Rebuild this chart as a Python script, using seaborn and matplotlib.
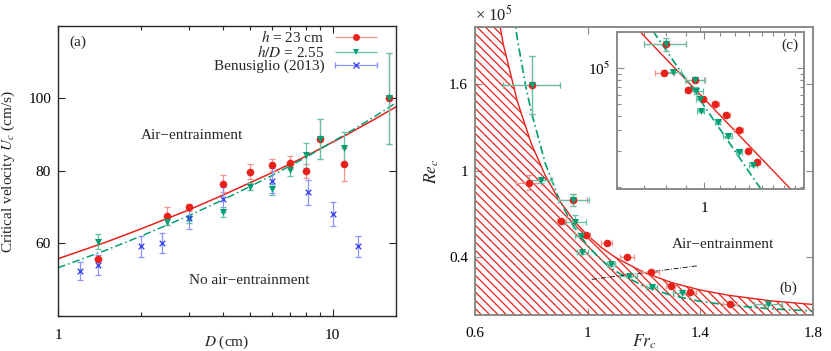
"""Critical velocity (a), Re-Fr phase diagram (b) and log-log inset (c)"""

import numpy as np
import matplotlib
matplotlib.use("Agg")
import matplotlib.pyplot as plt
from matplotlib.legend_handler import HandlerErrorbar
from matplotlib.container import ErrorbarContainer
import seaborn as sns

# ── panel (a): U_c vs D ──
D_RED = [1.4, 2.5, 3, 4, 5, 6, 7, 8, 9, 11, 16]
U_RED = [55.8, 67.6, 70.0, 76.5, 79.8, 81.7, 82.3, 80.0, 88.9, 81.8, 100.0]
U_RED_ERR = [1.0, 2.5, 1.0, 2.4, 2.0, 1.7, 1.7, 1.8, 5.5, 4.6, 12.5]

D_GREEN = [1.4, 2.5, 3, 4, 5, 6, 7, 8, 9, 11, 16]
U_GREEN = [60.5, 66.0, 66.7, 68.7, 75.7, 75.0, 80.4, 84.3, 88.9, 86.3, 100.0]
U_GREEN_ERR = [2.0, 1.0, 1.0, 1.5, 1.0, 1.5, 1.8, 3.5, 5.5, 4.5, 12.5]

D_BENU = [1.2, 1.4, 2.0, 2.4, 3.0, 4.0, 6.0, 8.1, 10.0, 12.4]
U_BENU = [52.3, 54.0, 59.2, 60.2, 67.0, 72.2, 77.3, 74.1, 68.2, 59.2]
U_BENU_ERR = [2.5, 2.8, 2.8, 2.8, 3.0, 3.5, 3.5, 3.5, 3.3, 2.8]

D_FIT = [1, 1.5, 2, 3, 4, 6, 8, 11, 14, 17]
U_FIT_RED = [55.8, 60.4, 64.0, 69.3, 73.4, 79.5, 84.1, 89.6, 94.0, 97.7]
U_FIT_GREEN = [53.3, 58.2, 62.0, 67.7, 72.1, 78.7, 83.8, 89.9, 94.7, 98.8]

# ── panel (b)/(c): Re_c (x1e5) vs Fr_c ──
FR_RED = [1.506, 1.364, 1.295, 1.224, 1.139, 1.068, 0.993, 0.907, 0.949, 0.791, 0.801]
RE_RED = [0.074, 0.162, 0.203, 0.301, 0.402, 0.497, 0.555, 0.652, 0.798, 0.918, 1.595]
FR_RED_ERR = [0.025, 0.02, 0.015, 0.03, 0.025, 0.02, 0.015, 0.015, 0.05, 0.044, 0.1]
RE_RED_ERR = [0.002, 0.006, 0.003, 0.01, 0.01, 0.01, 0.01, 0.01, 0.04, 0.05, 0.2]

FR_GREEN = [1.640, 1.334, 1.228, 1.147, 1.083, 0.981, 0.975, 0.955, 0.949, 0.833, 0.801]
RE_GREEN = [0.074, 0.155, 0.197, 0.271, 0.351, 0.435, 0.548, 0.647, 0.798, 0.936, 1.595]
FR_GREEN_ERR = [0.05, 0.03, 0.02, 0.03, 0.015, 0.02, 0.02, 0.04, 0.055, 0.04, 0.1]
RE_GREEN_ERR = [0.003, 0.005, 0.005, 0.01, 0.01, 0.01, 0.01, 0.045, 0.04, 0.02, 0.2]

FR_FIT_RED = [0.60, 0.65, 0.70, 0.75, 0.80, 0.85, 0.90, 0.95, 1.00, 1.05, 1.10,
              1.20, 1.30, 1.40, 1.50, 1.65, 1.80]
RE_FIT_RED = [3.20, 2.43, 1.883, 1.485, 1.189, 0.966, 0.793, 0.658, 0.552, 0.467, 0.398,
              0.295, 0.224, 0.1735, 0.137, 0.0986, 0.073]
FR_FIT_GREEN = [0.70, 0.72, 0.75, 0.78, 0.80, 0.85, 0.90, 0.95, 1.00, 1.05, 1.10,
                1.20, 1.30, 1.40, 1.50, 1.65, 1.80]
RE_FIT_GREEN = [2.68, 2.34, 1.92, 1.59, 1.41, 1.05, 0.798, 0.615, 0.48, 0.379, 0.303,
                0.199, 0.135, 0.0948, 0.068, 0.043, 0.028]

FR_TRANS = [1.015, 1.394]
RE_TRANS = [0.247, 0.342]

RED, RED_LIGHT = "#e8221a", "#f3948c"
GREEN, GREEN_LIGHT = "#009e73", "#62c2a2"
BLUE, BLUE_LIGHT = "#3c46f0", "#8c93ff"
FS = 11
DASHDOT = (0, (5, 2, 1, 2))

sns.set_theme(style="ticks")
plt.rcParams["font.family"] = ["Liberation Serif", "DejaVu Serif"]
plt.rcParams["mathtext.fontset"] = "stix"
plt.rcParams["hatch.color"] = RED
plt.rcParams["hatch.linewidth"] = 0.9


def style_axes(ax, color):
    for s in ax.spines.values():
        s.set_color(color)
        s.set_linewidth(1.0)
    ax.tick_params(which="both", direction="in", top=True, right=True,
                   color=color, labelsize=FS, labelcolor="black", pad=5)
    ax.tick_params(axis="x", which="both", pad=9)
    ax.tick_params(which="major", length=5, width=0.8)
    ax.tick_params(which="minor", length=3, width=0.8)


def points(ax, x, y, xerr, yerr, color, light, marker, size, scale=1.0):
    x = np.asarray(x)
    y = np.asarray(y) * scale
    ye = None if yerr is None else np.asarray(yerr) * scale
    ax.errorbar(x, y, xerr=xerr, yerr=ye, fmt="none", ecolor=light,
                elinewidth=0.9, capsize=2.2, capthick=0.9, zorder=3)
    lw = 1.0 if marker == "x" else 0
    sns.scatterplot(x=x, y=y, ax=ax, color=color, marker=marker, s=size,
                    linewidth=lw, edgecolor=color, zorder=4)


def plot_panel_a(ax):
    ax.set_xscale("log")
    sns.lineplot(x=D_FIT, y=U_FIT_RED, ax=ax, color=RED, linewidth=1.1, zorder=2)
    sns.lineplot(x=D_FIT, y=U_FIT_GREEN, ax=ax, color=GREEN, linewidth=1.1,
                 linestyle=DASHDOT, zorder=2)
    points(ax, D_RED, U_RED, None, U_RED_ERR, RED, RED_LIGHT, "o", 30)
    points(ax, D_GREEN, U_GREEN, None, U_GREEN_ERR, GREEN, GREEN_LIGHT, "v", 26)
    points(ax, D_BENU, U_BENU, None, U_BENU_ERR, BLUE, BLUE_LIGHT, "x", 16)

    ax.set_xlim(1, 17)
    ax.set_ylim(40, 120)
    ax.set_xticks([1, 10])
    ax.set_xticklabels(["1", "10"])
    ax.set_xticks([2, 3, 4, 5, 6, 7, 8, 9], minor=True)
    ax.set_xticklabels([], minor=True)
    ax.set_yticks([60, 80, 100])
    style_axes(ax, "#262626")

    ax.set_xlabel("$D$ (cm)", fontsize=FS)
    ax.set_ylabel("Critical velocity $U_c$ (cm/s)", fontsize=FS)
    ax.xaxis.set_label_coords(0.5, -0.062)
    ax.yaxis.set_label_coords(-0.12, 0.5)

    ax.text(0.035, 0.945, "(a)", transform=ax.transAxes, fontsize=FS, va="center")
    ax.text(0.396, 0.621, "Air\u2212entrainment", transform=ax.transAxes,
            fontsize=FS, ha="center", va="center")
    ax.text(0.565, 0.124, "No air\u2212entrainment", transform=ax.transAxes,
            fontsize=FS, ha="center", va="center")

    # legend: text on the left, horizontal error bar sample on the right
    handles = []
    for label, color, light, marker in [("$h$ = 23 cm", RED, RED_LIGHT, "o"),
                                        ("$h/D$ = 2.55", GREEN, GREEN_LIGHT, "v"),
                                        ("Benusiglio (2013)", BLUE, BLUE_LIGHT, "x")]:
        h = ax.errorbar([np.nan], [np.nan], xerr=[1.0], fmt=marker, color=color,
                        ecolor=light, elinewidth=0.9, capsize=2.2, markersize=5,
                        markeredgewidth=1.0 if marker == "x" else 0, label=label)
        handles.append(h)
    ax.legend(handles=handles, loc="upper right", bbox_to_anchor=(0.947, 0.99),
              frameon=False, markerfirst=False, fontsize=FS, handlelength=2.9,
              handletextpad=0.6, labelspacing=-0.05, borderpad=0, borderaxespad=0,
              handler_map={ErrorbarContainer: HandlerErrorbar(xerr_size=1.35)})


def plot_panel_b(ax, fig):
    ax.fill_between(FR_FIT_RED, 0, RE_FIT_RED, facecolor="none", edgecolor=RED,
                    hatch="\\\\\\\\", linewidth=0, zorder=1)
    sns.lineplot(x=FR_FIT_RED, y=RE_FIT_RED, ax=ax, color=RED, linewidth=1.0, zorder=2)
    sns.lineplot(x=FR_FIT_GREEN, y=RE_FIT_GREEN, ax=ax, color=GREEN, linewidth=1.2,
                 linestyle=DASHDOT, zorder=2)
    sns.lineplot(x=FR_TRANS, y=RE_TRANS, ax=ax, color="black", linewidth=0.6,
                 linestyle=(0, (6, 2, 1, 2)), zorder=2)
    points(ax, FR_RED, RE_RED, FR_RED_ERR, RE_RED_ERR, RED, RED_LIGHT, "o", 30)
    points(ax, FR_GREEN, RE_GREEN, FR_GREEN_ERR, RE_GREEN_ERR, GREEN, GREEN_LIGHT, "v", 26)

    ax.set_xlim(0.6, 1.8)
    ax.set_ylim(0, 2.0)
    ax.set_xticks([0.6, 1.0, 1.4, 1.8])
    ax.set_xticklabels(["0.6", "1", "1.4", "1.8"])
    ax.set_yticks([0.4, 1.0, 1.6])
    ax.set_yticklabels(["0.4", "1", "1.6"])
    style_axes(ax, "#8a8a8a")
    for s in ax.spines.values():
        s.set_linewidth(1.4)

    ax.set_xlabel("$Fr_c$", fontsize=12.5)
    ax.set_ylabel("$Re_c$", fontsize=12.5)
    ax.xaxis.set_label_coords(0.5, -0.062)
    ax.yaxis.set_label_coords(-0.1, 0.5)

    ax.text(0.734, 0.243, "Air\u2212entrainment", transform=ax.transAxes,
            fontsize=FS, ha="center", va="center")
    ax.text(0.927, 0.094, "(b)", transform=ax.transAxes, fontsize=FS,
            ha="center", va="center")
    fig.text(0.572, 0.957, "\u00d7 10$^5$", fontsize=12, ha="left", va="center")


def plot_panel_c(ax):
    ax.set_xscale("log")
    ax.set_yscale("log")
    sns.lineplot(x=FR_FIT_RED, y=np.asarray(RE_FIT_RED) * 1e5, ax=ax, color=RED,
                 linewidth=1.0, zorder=2)
    sns.lineplot(x=FR_FIT_GREEN, y=np.asarray(RE_FIT_GREEN) * 1e5, ax=ax, color=GREEN,
                 linewidth=1.2, linestyle=DASHDOT, zorder=2)
    points(ax, FR_RED, RE_RED, FR_RED_ERR, RE_RED_ERR, RED, RED_LIGHT, "o", 30, 1e5)
    points(ax, FR_GREEN, RE_GREEN, FR_GREEN_ERR, RE_GREEN_ERR, GREEN, GREEN_LIGHT, "v", 26, 1e5)

    ax.set_xlim(0.6, 1.8)
    ax.set_ylim(9.6e3, 2.0e5)
    ax.set_xticks([1.0])
    ax.set_xticklabels(["1"])
    ax.set_xticks([0.7, 0.8, 0.9, 1.1, 1.2, 1.3, 1.4, 1.5, 1.6, 1.7], minor=True)
    ax.set_xticklabels([], minor=True)
    ax.set_yticks([1e5])
    ax.set_yticklabels(["10$^5$"])
    ax.set_yticks([1e4, 2e4, 3e4, 4e4, 5e4, 6e4, 7e4, 8e4, 9e4], minor=True)
    ax.set_yticklabels([], minor=True)
    style_axes(ax, "#8a8a8a")
    for s in ax.spines.values():
        s.set_linewidth(1.4)
    ax.text(0.923, 0.919, "(c)", transform=ax.transAxes, fontsize=FS,
            ha="center", va="center")


fig = plt.figure(figsize=(8.31, 3.51), dpi=100)
ax_a = fig.add_axes([0.0698, 0.0997, 0.4067, 0.8263])
ax_b = fig.add_axes([0.5716, 0.1026, 0.4064, 0.8214])
ax_c = fig.add_axes([0.7428, 0.4607, 0.2251, 0.4473])

plot_panel_a(ax_a)
plot_panel_b(ax_b, fig)
plot_panel_c(ax_c)

fig.savefig("out.png", dpi=100)
plt.close(fig)
